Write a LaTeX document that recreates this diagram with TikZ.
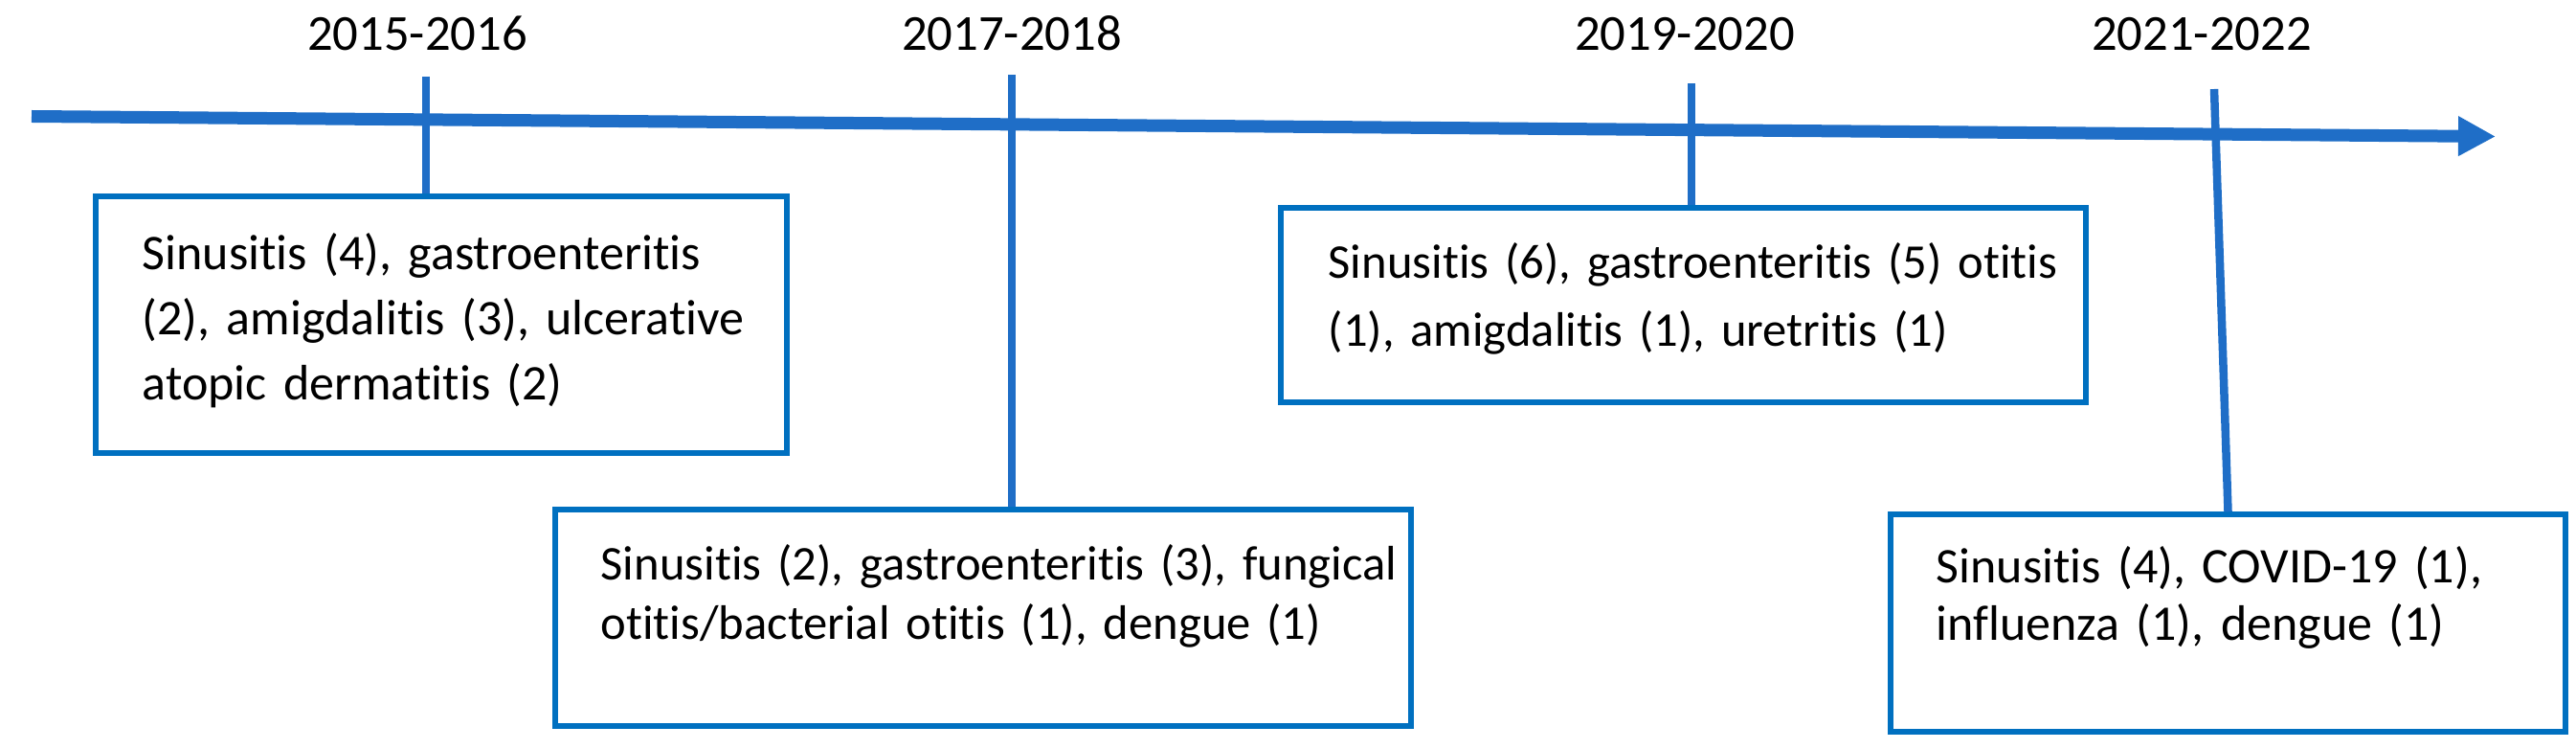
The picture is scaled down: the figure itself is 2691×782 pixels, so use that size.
\documentclass[tikz,border=0pt]{standalone}
\usepackage{fontspec}
\setmainfont[Ligatures=NoCommon]{Carlito}
\usetikzlibrary{arrows.meta}
\definecolor{axisblue}{RGB}{31,110,199}
\definecolor{boxblue}{RGB}{0,112,192}
\begin{document}
\begin{tikzpicture}[x=0.1mm,y=-0.1mm,
  box/.style={draw=boxblue, line width=0.55mm, inner sep=0pt},
  txt/.style n args={3}{anchor=base west, inner sep=0pt, align=left, text width=#1,
    font=\fontsize{#3}{#2}\selectfont},
  year/.style={anchor=base, inner sep=0pt, font=\fontsize{15}{18}\selectfont},
  tickline/.style={draw=axisblue, line width=0.85mm},
  axisline/.style={draw=axisblue, line width=1.3mm, -{Triangle[length=3.9mm,width=3.9mm]}}]
\useasboundingbox (0,0) rectangle (2691,782);

% boxes
\node[box, minimum width=72.2mm, minimum height=26.8mm] (b1) at (461,339) {};
\node[box, minimum width=89.4mm, minimum height=22.6mm] (b2) at (1027,645) {};
\node[box, minimum width=84.1mm, minimum height=20.3mm] (b3) at (1758.5,318.5) {};
\node[box, minimum width=70.5mm, minimum height=22.7mm] (b4) at (2327.5,650.5) {};

% box texts
\node[txt={64mm}{19.3}{14.8}] (t1) at (148,282) {Sinusitis (4), gastroenteritis\\(2), amigdalitis (3), ulcerative\\atopic dermatitis (2)};
\node[txt={86mm}{17.9}{14.4}] (t2) at (627,605) {Sinusitis (2), gastroenteritis (3), fungical\\otitis/bacterial otitis (1), dengue (1)};
\node[txt={80mm}{20.1}{14.4}] (t3) at (1387,291) {Sinusitis (6), gastroenteritis (5) otitis\\(1), amigdalitis (1), uretritis (1)};
\node[txt={62mm}{17.2}{14.8}] (t4) at (2022,608) {Sinusitis (4), COVID-19 (1),\\influenza (1), dengue (1)};

% year labels
\node[year] (y1) at (436,53) {2015-2016};
\node[year] (y2) at (1057,53) {2017-2018};
\node[year] (y3) at (1760,53) {2019-2020};
\node[year] (y4) at (2300,53) {2021-2022};

% axis
\coordinate (a0) at (33,121.5);
\coordinate (a1) at (2607,142.5);
\draw[axisline] (a0) -- (a1);

% ticks
\coordinate (k1) at (445,80);
\coordinate (k2) at (1057,78);
\coordinate (k3) at (1767,87);
\coordinate (k4) at (2313,93);
\draw[tickline] (k1) -- (k1 |- b1.north);
\draw[tickline] (k2) -- (k2 |- b2.north);
\draw[tickline] (k3) -- (k3 |- b3.north);
\draw[tickline] (k4) -- (b4.north);
\end{tikzpicture}
\end{document}
